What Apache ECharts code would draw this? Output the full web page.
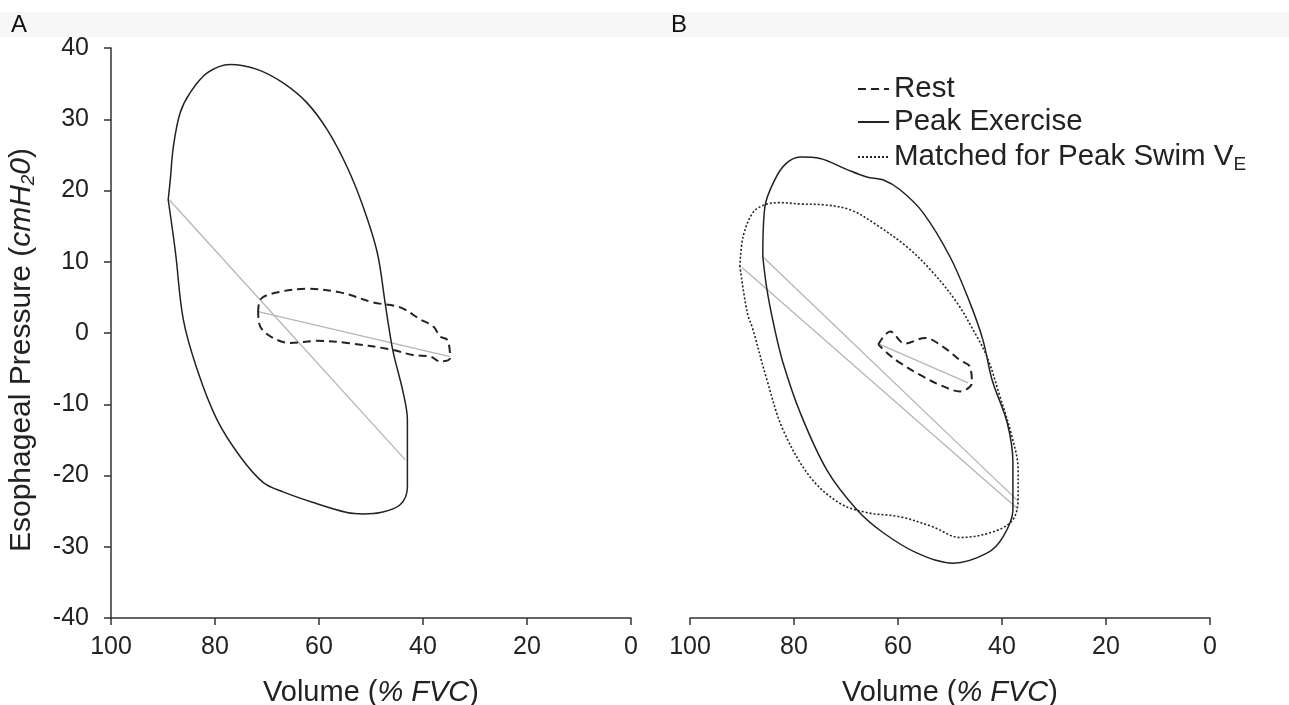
<!DOCTYPE html>
<html>
<head>
<meta charset="utf-8">
<title>Esophageal pressure-volume loops</title>
<script src="https://cdn.jsdelivr.net/npm/echarts@6/dist/echarts.min.js"></script>
<style>
  html, body { margin: 0; padding: 0; background: #fff; }
  #chart { width: 1289px; height: 705px; }
</style>
</head>
<body>
<div id="chart"></div>
<script>
// volume (% FVC), esophageal pressure (cmH2O) pairs
const peakA = [
  [89.0, 18.7], [88.6, 21.5], [88.0, 26.2], [86.7, 30.9], [84.8, 33.7], [81.5, 36.5],
  [77.1, 37.7], [71.9, 37.0], [66.9, 35.1], [62.3, 32.3], [58.4, 28.5], [54.6, 23.3],
  [51.5, 17.7], [48.8, 11.3], [47.3, 4.3], [46.5, 0.5], [45.7, -2.8], [43.8, -8.4],
  [43.0, -12.2], [43.0, -17.5], [43.0, -21.6], [44.4, -24.1], [48.2, -25.2], [51.5, -25.4],
  [54.6, -25.2], [61.1, -23.8], [66.9, -22.3], [70.7, -21.0], [75.1, -17.4], [79.6, -12.2],
  [83.4, -5.2], [86.1, 1.9], [87.6, 11.3], [89.0, 18.7]
];
const restA = [
  [71.7, 2.9], [71.3, 4.7], [67.4, 5.8], [62.3, 6.2], [55.9, 5.7], [49.6, 4.3],
  [44.4, 3.6], [40.5, 1.9], [38.0, 0.9], [36.7, -0.5], [35.3, -1.0], [34.8, -3.5],
  [36.7, -4.0], [38.6, -3.3], [41.9, -3.1], [46.3, -2.3], [54.6, -1.4], [60.3, -1.1],
  [65.5, -1.4], [68.8, -0.7], [71.3, 0.9], [71.7, 2.9]
];
const chordPeakA = [[88.8, 18.7], [43.4, -17.8]];
const chordRestA = [[71.7, 3.0], [34.8, -3.3]];

const peakB = [
  [86.0, 10.7], [85.6, 17.7], [83.7, 21.5], [81.5, 23.8], [78.8, 24.7], [75.0, 24.5],
  [70.0, 23.0], [66.0, 21.9], [62.9, 21.5], [59.6, 20.1], [55.2, 16.9], [50.0, 10.7],
  [46.2, 4.3], [43.7, -0.9], [41.9, -6.6], [39.0, -12.6], [37.9, -18.2], [37.9, -24.8],
  [39.8, -28.6], [42.9, -30.9], [49.4, -32.3], [56.3, -30.9], [62.9, -28.0], [67.9, -24.8],
  [73.7, -19.2], [78.8, -11.2], [82.1, -4.2], [83.7, 0.5], [85.2, 6.1], [86.0, 10.7]
];
const matchedB = [
  [90.4, 9.3], [89.8, 13.5], [87.9, 16.9], [85.6, 18.0], [82.7, 18.3], [78.8, 18.1],
  [74.4, 18.0], [69.2, 17.3], [64.8, 15.5], [58.3, 12.1], [53.3, 8.5], [48.7, 4.3],
  [45.6, 0.5], [42.9, -3.3], [40.4, -8.9], [38.1, -14.5], [36.9, -19.2], [36.9, -23.0],
  [37.9, -26.2], [41.7, -27.9], [48.1, -28.7], [53.3, -27.2], [59.6, -25.8], [66.0, -25.2],
  [71.2, -23.9], [76.9, -20.2], [82.1, -13.6], [85.2, -6.6], [87.9, 0.5], [89.0, 2.9],
  [90.4, 9.3]
];
const restB = [
  [63.8, -1.6], [61.5, 0.2], [58.7, -1.5], [54.8, -0.7], [51.4, -1.9], [48.1, -3.8],
  [46.2, -4.7], [45.8, -7.0], [48.1, -8.2], [51.9, -7.3], [55.2, -6.1], [59.6, -4.2],
  [62.1, -2.8], [63.8, -1.6]
];
const chordPeakB = [[86.0, 10.7], [36.9, -23.6]];
const chordMatchedB = [[90.0, 9.2], [37.1, -24.6]];
const chordRestB = [[63.5, -1.6], [46.5, -7.0]];

const MATCHED = "Matched for Peak Swim VE";
const FONT = "'Liberation Sans', Arial, sans-serif";

var myChart = echarts.init(document.getElementById("chart"));

const axisLineStyle = { color: "#333", width: 1.5 };

function volumeAxis(gridIndex) {
  return {
    type: "value",
    gridIndex: gridIndex,
    min: 0,
    max: 100,
    interval: 20,
    inverse: true,
    axisLine: { show: true, onZero: false, lineStyle: axisLineStyle },
    axisTick: { show: true, length: 7, lineStyle: axisLineStyle },
    axisLabel: { fontSize: 25, color: "#222", margin: 17, fontFamily: FONT },
    splitLine: { show: false },
    name: "{n|Volume (}{i|% FVC}{n|)}",
    nameLocation: "middle",
    nameGap: 60,
    nameTextStyle: {
      rich: {
        n: { fontSize: 29, color: "#222", fontFamily: FONT },
        i: { fontSize: 29, color: "#222", fontFamily: FONT, fontStyle: "italic" },
      },
    },
  };
}

function loop(name, data, xi, dash, width) {
  return {
    name: name,
    type: "line",
    xAxisIndex: xi,
    yAxisIndex: xi,
    data: data,
    symbol: "none",
    smooth: 0.35,
    silent: true,
    z: 3,
    itemStyle: { color: "#222" },
    lineStyle: { color: "#222", width: width, type: dash },
  };
}

function chord(data, xi) {
  return {
    type: "line",
    xAxisIndex: xi,
    yAxisIndex: xi,
    data: data,
    symbol: "none",
    silent: true,
    z: 2,
    lineStyle: { color: "#b5b5b5", width: 1.3 },
  };
}

var option = {
  animation: false,
  backgroundColor: "#fff",
  textStyle: { fontFamily: FONT },
  graphic: [
    { type: "rect", z: -10, shape: { x: 0, y: 12, width: 1289, height: 25 }, style: { fill: "#f7f7f7" } },
  ],
  title: [
    { text: "A", left: 6, top: 8, textStyle: { fontSize: 24, fontWeight: "normal", color: "#111", fontFamily: FONT } },
    { text: "B", left: 666, top: 8, textStyle: { fontSize: 24, fontWeight: "normal", color: "#111", fontFamily: FONT } },
  ],
  legend: {
    orient: "vertical",
    left: 852,
    top: 69,
    itemWidth: 31,
    itemHeight: 14,
    itemGap: 3,
    itemStyle: { opacity: 0 },
    data: ["Rest", "Peak Exercise", MATCHED],
    formatter: function (name) {
      if (name === MATCHED) return "{t|Matched for Peak Swim V}{s|E}";
      return "{t|" + name + "}";
    },
    textStyle: {
      rich: {
        t: { fontSize: 29.5, color: "#222", fontFamily: FONT, lineHeight: 30 },
        s: { fontSize: 19, color: "#222", fontFamily: FONT, lineHeight: 19, padding: [15, 0, 0, 0] },
      },
    },
  },
  grid: [
    { left: 111, top: 48, width: 520, height: 570, outerBoundsMode: "none" },
    { left: 690, top: 48, width: 520, height: 570, outerBoundsMode: "none" },
  ],
  xAxis: [volumeAxis(0), volumeAxis(1)],
  yAxis: [
    {
      type: "value",
      gridIndex: 0,
      min: -40,
      max: 40,
      interval: 10,
      axisLine: { show: true, onZero: false, lineStyle: axisLineStyle },
      axisTick: { show: true, length: 7, lineStyle: axisLineStyle },
      axisLabel: { fontSize: 25, color: "#222", margin: 22, fontFamily: FONT },
      splitLine: { show: false },
      name: "{n|Esophageal Pressure (}{i|cmH}{s|2}{i|0}{n|)}",
      nameLocation: "middle",
      nameRotate: 90,
      nameGap: 73,
      nameTextStyle: {
        padding: [0, 34, 0, 0],
        rich: {
          n: { fontSize: 30, color: "#222", fontFamily: FONT },
          i: { fontSize: 30, color: "#222", fontFamily: FONT, fontStyle: "italic" },
          s: { fontSize: 19, color: "#222", fontFamily: FONT, fontStyle: "italic", padding: [14, 0, 0, 0] },
        },
      },
    },
    { type: "value", gridIndex: 1, min: -40, max: 40, show: false },
  ],
  series: [
    chord(chordPeakA, 0),
    chord(chordRestA, 0),
    loop("Rest", restA, 0, [8, 5], 2),
    loop("Peak Exercise", peakA, 0, "solid", 1.5),
    chord(chordPeakB, 1),
    chord(chordMatchedB, 1),
    chord(chordRestB, 1),
    loop("Rest", restB, 1, [8, 5], 2),
    loop("Peak Exercise", peakB, 1, "solid", 1.5),
    loop(MATCHED, matchedB, 1, [2, 2], 1.6),
  ],
};

option && myChart.setOption(option);
</script>
</body>
</html>
